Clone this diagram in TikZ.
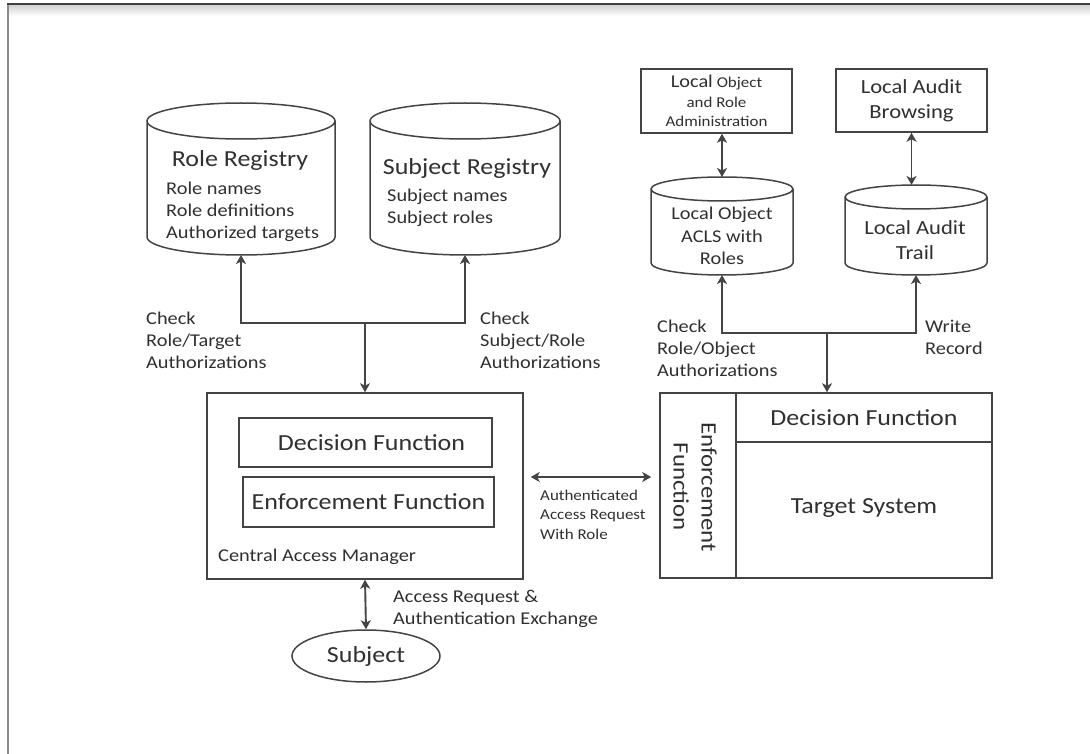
\documentclass[tikz,border=0pt]{standalone}
\usepackage{fontspec}
\setmainfont{Carlito}[FakeStretch=1.13]
\usetikzlibrary{arrows.meta,calc,shapes.geometric}
\definecolor{ink}{HTML}{303030}
\definecolor{linec}{HTML}{444444}
\newcommand\szbig{\fontsize{23}{28}\selectfont}
\newcommand\szmid{\fontsize{20}{25}\selectfont}
\newcommand\szlab{\fontsize{18}{22}\selectfont}
\newcommand\szsml{\fontsize{15}{19.5}\selectfont}
% cylinder outline drawn over a bounding node: #1 node name, #2 end-cap y radius (pt)
\newcommand\drawcyl[2]{%
  \draw[stroke] let \p1=(#1.north west), \p2=(#1.south east), \n1={(\x2-\x1)/2} in
    (\x1,\y1-#2pt) -- (\x1,\y2+#2pt)
    arc[start angle=180,end angle=360,x radius=\n1,y radius=#2pt]
    -- (\x2,\y1-#2pt)
    arc[start angle=0,end angle=360,x radius=\n1,y radius=#2pt];}
\begin{document}
\begin{tikzpicture}[x=1pt,y=1pt,
  stroke/.style={draw=linec,line width=1.5pt},
  boxnode/.style={stroke,rectangle,inner sep=0pt,text=ink},
  bb/.style={rectangle,inner sep=0pt,outer sep=0pt},
  conn/.style={draw=linec,line width=1.9pt},
  to1/.style={conn,-{Stealth[length=9pt,width=10pt,inset=2.5pt]}},
  to2/.style={conn,{Stealth[length=9pt,width=10pt,inset=2.5pt]}-{Stealth[length=9pt,width=10pt,inset=2.5pt]}},
  txt/.style={text=ink,inner sep=0pt},
  lab/.style={txt,font=\szlab,align=left,anchor=west},
]
\useasboundingbox (0,0) rectangle (1090,-754);
\fill[white] (0,0) rectangle (1090,-754);
% page frame with a soft shade under the top edge
\fill[top color=black!18,bottom color=white] (9,-5) rectangle (1090,-16);
\draw[black!45,line width=2.2pt] (8,-754) -- (8,-4);
\draw[black!75,line width=2.2pt] (7,-4) -- (1090,-4);

% registries
\node[bb,minimum width=188,minimum height=152] (rr) at (241,-179) {};
\node[bb,minimum width=190,minimum height=152] (sr) at (465,-179) {};
\drawcyl{rr}{18}
\drawcyl{sr}{18}
\node[txt,font=\szbig] (rrt) at (240,-160) {Role Registry};
\node[txt,font=\szlab,align=left,anchor=west] (rri) at (166,-212)
  {Role names\\Role definitions\\Authorized targets};
\node[txt,font=\szbig] (srt) at (467,-168) {Subject Registry};
\node[txt,font=\szlab,align=left,anchor=west] (sri) at (387,-207.5)
  {Subject names\\Subject roles};

% local stores and administration
\node[boxnode,minimum width=151,minimum height=64,align=center,font=\szsml] (adm) at (716.5,-101)
  {{\szlab Local} Object\\and Role\\Administration};
\node[boxnode,minimum width=151,minimum height=63,align=center,font=\szmid] (brw) at (911.5,-100.5)
  {Local Audit\\Browsing};
\node[bb,minimum width=142,minimum height=98] (acl) at (722,-226) {};
\node[bb,minimum width=142,minimum height=90] (aud) at (916,-230) {};
\drawcyl{acl}{12}
\drawcyl{aud}{12}
\node[txt,font=\fontsize{18}{22.5}\selectfont,align=center] (aclt) at (722,-236)
  {Local Object\\ACLS with\\Roles};
\node[txt,font=\szmid,align=center] (audt) at (915,-240) {Local Audit\\Trail};

% central access manager
\node[boxnode,minimum width=316,minimum height=186] (cam) at (365,-486) {};
\node[boxnode,minimum width=253,minimum height=49,font=\szbig] (dec1) at (365.5,-442.5)
  {\hspace*{12pt}Decision Function};
\node[boxnode,minimum width=251,minimum height=50,font=\szbig] (enf1) at (368.5,-502)
  {Enforcement Function};
\node[lab] (camt) at (218,-557) {Central Access Manager};

% subject
\node[ellipse,stroke,minimum width=148,minimum height=52,inner sep=0pt,text=ink,font=\szbig]
  (subj) at (366,-656) {Subject};

% target system
\node[boxnode,minimum width=76,minimum height=185] (enf2) at (698,-485.5) {};
\node[boxnode,minimum width=256,minimum height=49,font=\szbig] (dec2) at (864,-417.5)
  {Decision Function};
\node[boxnode,minimum width=256,minimum height=136,font=\szbig] (tgt) at (864,-510)
  {\raisebox{8pt}{Target System}};
\node[txt,font=\fontsize{22}{28}\selectfont,align=center,rotate=-90] (enf2t) at (695,-487)
  {Enforcement\\Function};

% connectors to the registries
\coordinate (hub1) at (365,-323);
\draw[to1] (hub1) -| (rr.south);
\draw[to1] (hub1) -| (sr.south);
\draw[to1] (hub1) -- (cam.north);
\node[lab] (l1) at (146,-340) {Check\\Role/Target\\Authorizations};
\node[lab] (l2) at (480,-340) {Check\\Subject/Role\\Authorizations};

% connectors to the local stores
\coordinate (hub2) at (827,-333);
\draw[to1] (hub2) -| (acl.south);
\draw[to1] (hub2) -| (aud.south);
\draw[to1] (hub2) -- (hub2 |- dec2.north);
\node[lab] (l3) at (657,-348.5) {Check\\Role/Object\\Authorizations};
\node[lab] (l4) at (925,-337.5) {Write\\Record};
\draw[to2] (acl.north |- adm.south) -- (acl.north);
\draw[to2] (brw.south) -- (brw.south |- aud.north);

% request paths
\draw[to2,shorten <=7pt,shorten >=8pt] ([yshift=9pt]cam.east) -- ([yshift=9pt]cam.east -| enf2.west);
\node[txt,font=\szsml,align=left,anchor=west] (l5) at (540,-514.5)
  {Authenticated\\Access Request\\With Role};
\draw[to2] (cam.south) -- (subj.north);
\node[lab] (l6) at (393,-609) {Access Request \&\\Authentication Exchange};
\end{tikzpicture}
\end{document}
